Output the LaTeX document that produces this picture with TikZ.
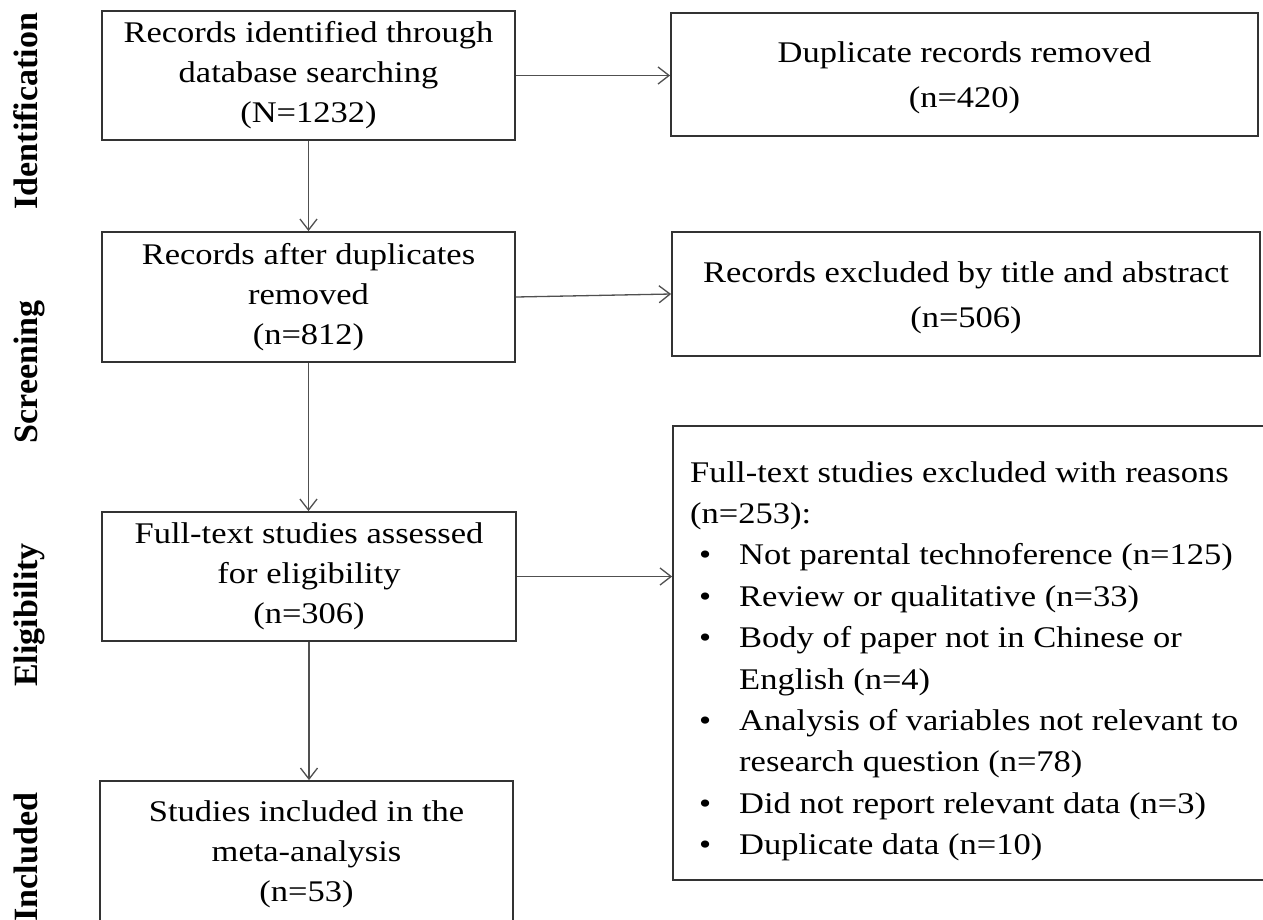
\documentclass[tikz,border=0pt]{standalone}
\usepackage{fontspec}
\setmainfont{Liberation Serif}
\newfontfamily\bodyfont[FakeStretch=1.15]{Liberation Serif}
\newfontfamily\labfont{Liberation Serif}
\usetikzlibrary{arrows.meta}
\definecolor{boxcol}{HTML}{333333}
\definecolor{arrcol}{HTML}{505050}
\newcommand\bul{\hspace*{9pt}\makebox[40pt][l]{•}}
\newcommand\cont{\hspace*{49pt}}
\newcommand\tstrut{\rule{0pt}{28pt}}
\begin{document}
\begin{tikzpicture}[x=1pt,y=-1pt,
  box/.style={draw=boxcol, line width=1.8pt, inner sep=0pt, align=center, text=black,
    font={\bodyfont\fontsize{30}{40}\selectfont}},
  rbox/.style={box, font={\bodyfont\fontsize{30}{45}\selectfont}},
  conn/.style={draw=arrcol, line width=1.3pt,
    -{Straight Barb[length=11pt,width=17pt,line width=1.3pt]}},
  stage/.style={rotate=90, anchor=base, inner sep=0pt, text=black,
    font={\labfont\bfseries\fontsize{34}{40}\selectfont}}]
\useasboundingbox (0,0) rectangle (1263,919);
\fill[white] (0,0) rectangle (1263,919);
\clip (0,0) rectangle (1263,919);

% stage labels
\node[stage] (lid) at (37,111) {Identification};
\node[stage] (lsc) at (37,372) {Screening};
\node[stage] (lel) at (37,615) {Eligibility};
\node[stage] (lin) at (37,857) {Included};

% left column
\node[box, minimum width=413pt, minimum height=129pt] (b1) at (308.5,75.5)
  {Records identified through\\database searching\\(N=1232)};
\node[box, minimum width=413pt, minimum height=130pt] (b3) at (308.5,297)
  {Records after duplicates\\removed\\(n=812)};
\node[box, minimum width=414pt, minimum height=129pt] (b5) at (309,576.5)
  {Full-text studies assessed\\for eligibility\\(n=306)};
\node[box, minimum width=413pt, minimum height=146pt] (b7) at (306.5,854)
  {Studies included in the\\meta-analysis\\(n=53)};

% right column
\node[rbox, minimum width=587pt, minimum height=123pt] (b2) at (964.5,74.5)
  {\tstrut Duplicate records removed\\(n=420)};
\node[rbox, minimum width=588pt, minimum height=124pt] (b4) at (966,294)
  {\tstrut Records excluded by title and abstract\\(n=506)};
\node[box, minimum width=607pt, minimum height=454pt] (r) at (976.5,653) {};
\node[anchor=north west, align=left, inner sep=0pt, text=black,
  font={\bodyfont\fontsize{30}{41.4}\selectfont}] (rt) at (690,461)
  {Full-text studies excluded with reasons\\
   (n=253):\\
   \bul Not parental technoference (n=125)\\
   \bul Review or qualitative (n=33)\\
   \bul Body of paper not in Chinese or\\
   \cont English (n=4)\\
   \bul Analysis of variables not relevant to\\
   \cont research question (n=78)\\
   \bul Did not report relevant data (n=3)\\
   \bul Duplicate data (n=10)};

% connectors
\draw[conn] (b1.south) -- (b1.south |- b3.north);
\draw[conn] (b3.south) -- (b3.south |- b5.north);
\draw[conn] (b5.south) -- (b5.south |- b7.north);
\draw[conn] (b1.east) -- (b1.east -| b2.west);
\draw[conn] (b3.east) -- (b4.west);
\draw[conn] (b5.east) -- (b5.east -| r.west);
\end{tikzpicture}
\end{document}
